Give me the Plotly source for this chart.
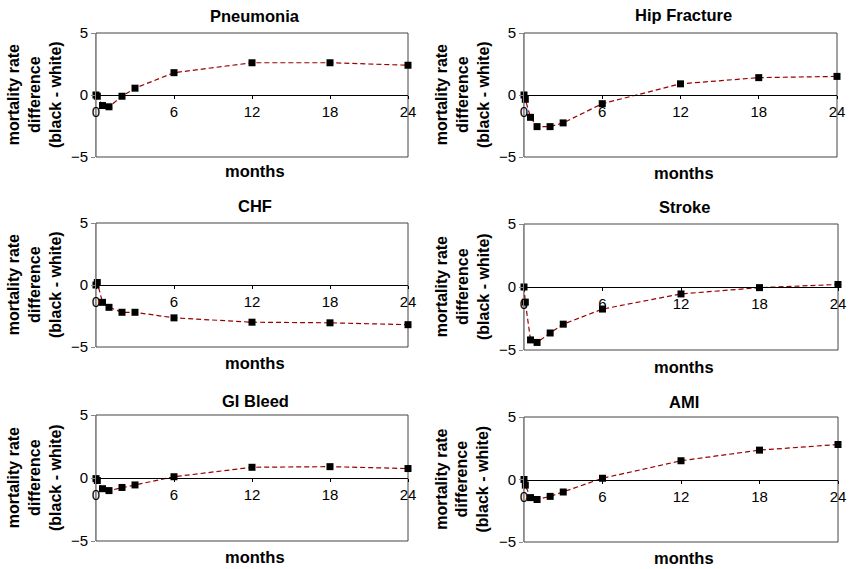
import plotly.graph_objects as go

months = [0, 0.1, 0.5, 1, 2, 3, 6, 12, 18, 24]
x_ticks = [0, 6, 12, 18, 24]
y_ticks = [-5, 0, 5]
y_tick_labels = ["\u22125", "0", "5"]

titles = ["Pneumonia", "Hip Fracture", "CHF", "Stroke", "GI Bleed", "AMI"]
pneumonia = [0, -0.1, -0.85, -0.95, -0.1, 0.55, 1.8, 2.6, 2.6, 2.4]
hip_fracture = [0, -0.35, -1.8, -2.55, -2.55, -2.25, -0.7, 0.9, 1.4, 1.5]
chf = [0, 0.2, -1.4, -1.8, -2.2, -2.2, -2.65, -3.0, -3.05, -3.2]
stroke = [0, -1.2, -4.2, -4.4, -3.65, -2.95, -1.75, -0.55, -0.05, 0.2]
gi_bleed = [-0.05, -0.2, -0.85, -1.0, -0.75, -0.55, 0.1, 0.85, 0.9, 0.75]
ami = [0, -0.45, -1.45, -1.6, -1.35, -1.0, 0.1, 1.5, 2.35, 2.8]
series = [pneumonia, hip_fracture, chf, stroke, gi_bleed, ami]

W, H = 849, 569
# plot-area pixel boxes (left, right, top, bottom)
boxes = [
    (96, 408, 33, 157),
    (524, 837, 33, 157),
    (96, 408, 223, 347),
    (524, 838, 224, 350),
    (96, 408, 415, 541),
    (524, 838, 417, 542),
]
title_y = [16, 15, 206, 207, 401, 402]
months_y = [171, 173, 363, 367, 557, 558]

FONT = "Arial, Liberation Sans, sans-serif"
fig = go.Figure()
annotations = []
shapes = []
for i, (name, vals, (l, r, t, b)) in enumerate(zip(titles, series, boxes)):
    n = "" if i == 0 else str(i + 1)
    xd = [l / W, r / W]
    yd = [1 - b / H, 1 - t / H]
    fig.add_trace(go.Scatter(
        x=months, y=vals, mode="lines+markers",
        line=dict(color="#990000", width=1.2, dash="5px,3px"),
        marker=dict(symbol="square", size=7, color="black"),
        xaxis="x" + n, yaxis="y" + n, showlegend=False, cliponaxis=False,
    ))
    fig.layout["xaxis" + n] = dict(
        domain=xd, range=[0, 24], anchor="free", position=(yd[0] + yd[1]) / 2,
        tickvals=x_ticks, ticktext=[str(v) for v in x_ticks],
        showline=True, linecolor="black", linewidth=1,
        ticks="outside", ticklen=3, tickcolor="black",
        showgrid=False, zeroline=False, automargin=False,
        tickfont=dict(family=FONT, size=15, color="black"),
    )
    fig.layout["yaxis" + n] = dict(
        domain=yd, range=[-5, 5], anchor="x" + n,
        tickvals=y_ticks, ticktext=y_tick_labels,
        showline=True, linecolor="#888888", linewidth=1,
        ticks="outside", ticklen=4, tickcolor="#888888",
        showgrid=False, zeroline=False, automargin=False,
        tickfont=dict(family=FONT, size=15, color="black"),
    )
    shapes.append(dict(type="rect", xref="x" + n + " domain", yref="y" + n + " domain",
                       x0=0, x1=1, y0=0, y1=1, line=dict(color="#444444", width=1),
                       layer="below"))
    cx = (l + r) / 2 / W
    annotations.append(dict(text="<b>" + name + "</b>", x=cx + 3 / W, y=1 - title_y[i] / H,
                            xref="paper", yref="paper", showarrow=False,
                            font=dict(family=FONT, size=16.5, color="black"),
                            xanchor="center", yanchor="middle"))
    annotations.append(dict(text="<b>months</b>", x=cx + 3 / W, y=1 - months_y[i] / H,
                            xref="paper", yref="paper", showarrow=False,
                            font=dict(family=FONT, size=16.5, color="black"),
                            xanchor="center", yanchor="middle"))
    annotations.append(dict(text="<b>mortality rate<br>difference<br>(black - white)</b>",
                            x=(l - 62) / W, y=1 - (t + b) / 2 / H,
                            xref="paper", yref="paper", showarrow=False, textangle=-90,
                            font=dict(family=FONT, size=16, color="black"),
                            xanchor="center", yanchor="middle"))

fig.update_layout(
    width=W, height=H, margin=dict(l=0, r=0, t=0, b=0),
    paper_bgcolor="white", plot_bgcolor="white",
    annotations=annotations, shapes=shapes,
)
fig.write_html("out.html", config={"displayModeBar": False})

# remove the default page margin so the figure sits at the window's corner
with open("out.html", "r", encoding="utf-8") as f:
    html = f.read()
html = html.replace("<head>", "<head><style>html,body{margin:0;padding:0;overflow:hidden;}</style>", 1)
with open("out.html", "w", encoding="utf-8") as f:
    f.write(html)
